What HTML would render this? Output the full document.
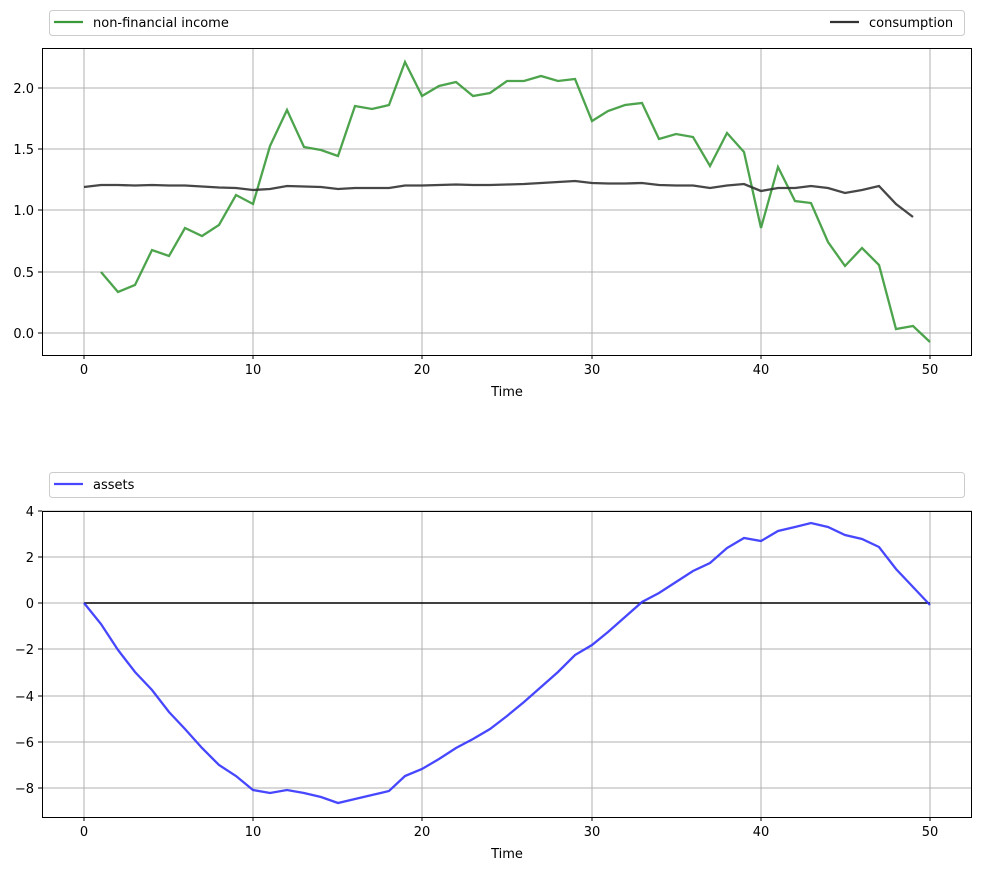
<!DOCTYPE html>
<html><head><meta charset="utf-8"><style>body{margin:0;background:#fff}svg{display:block}text{font-family:"DejaVu Sans","Liberation Sans",sans-serif;font-size:13px;fill:#000}</style></head><body>
<svg width="981" height="871" viewBox="0 0 981 871" xmlns="http://www.w3.org/2000/svg">
<g stroke="#b0b0b0" stroke-width="1">
<line x1="84" y1="48" x2="84" y2="355"/><line x1="253" y1="48" x2="253" y2="355"/><line x1="422" y1="48" x2="422" y2="355"/><line x1="592" y1="48" x2="592" y2="355"/><line x1="761" y1="48" x2="761" y2="355"/><line x1="930" y1="48" x2="930" y2="355"/>
<line x1="42" y1="333" x2="972" y2="333"/><line x1="42" y1="272" x2="972" y2="272"/><line x1="42" y1="210" x2="972" y2="210"/><line x1="42" y1="149" x2="972" y2="149"/><line x1="42" y1="88" x2="972" y2="88"/>
<line x1="84" y1="511" x2="84" y2="817"/><line x1="253" y1="511" x2="253" y2="817"/><line x1="422" y1="511" x2="422" y2="817"/><line x1="592" y1="511" x2="592" y2="817"/><line x1="761" y1="511" x2="761" y2="817"/><line x1="930" y1="511" x2="930" y2="817"/>
<line x1="42" y1="511" x2="972" y2="511"/><line x1="42" y1="557" x2="972" y2="557"/><line x1="42" y1="603" x2="972" y2="603"/><line x1="42" y1="649" x2="972" y2="649"/><line x1="42" y1="696" x2="972" y2="696"/><line x1="42" y1="742" x2="972" y2="742"/><line x1="42" y1="788" x2="972" y2="788"/>
</g>
<polyline fill="none" stroke="#3a9a3a" stroke-opacity="0.9" stroke-width="2.3" points="101,272 118,292 135,285 152,250 169,256 185,228 202,236 219,225 236,195 253,204 270,146 287,110 304,147 321,150 338,156 355,106 372,109 389,105 405,62 422,96 439,86 456,82 473,96 490,93 507,81 524,81 541,76 558,81 575,79 592,121 608,111 625,105 642,103 659,139 676,134 693,137 710,166 727,133 744,152 761,228 778,167 795,201 811,203 828,242 845,266 862,248 879,265 896,329 913,326 930,342"/>
<polyline fill="none" stroke="#333" stroke-opacity="0.9" stroke-width="2.3" points="84,187 101,185 118,185 135,185.5 152,185 169,185.5 185,185.5 202,186.5 219,187.5 236,188 253,190 270,189 287,186 304,186.5 321,187 338,189 355,188 372,188 389,188 405,185.5 422,185.5 439,185 456,184.5 473,185 490,185 507,184.5 524,184 541,183 558,182 575,181 592,183 608,183.5 625,183.5 642,183 659,185 676,185.5 693,185.5 710,188 727,185.5 744,184 761,191 778,188 795,188 811,186 828,188 845,193 862,190 879,186 896,204 913,217"/>
<line x1="84" y1="603" x2="930" y2="603" stroke="#000" stroke-width="1.5"/>
<polyline fill="none" stroke="#3333ff" stroke-opacity="0.9" stroke-width="2.3" points="84,603 101,624 118,650 135,672 152,690 169,712 185,729 202,748 219,765 236,776 253,790 270,793 287,790 304,793 321,797 338,803 355,799 372,795 389,791 405,776 422,769 439,759 456,748 473,739 490,729 507,716 524,702 541,687 558,672 575,655 592,645 608,632 625,617 642,602 659,593 676,582 693,571 710,563 727,548 744,538 761,541 778,531 795,527 811,523 828,527 845,535 862,539 879,547 896,569 913,587 930,605"/>
<g fill="none" stroke="#000" stroke-width="1">
<rect x="42.5" y="48.5" width="929" height="307"/><rect x="42.5" y="511.5" width="929" height="306"/>
</g>
<g stroke="#000">
<path d="M84 355v4M253 355v4M422 355v4M592 355v4M761 355v4M930 355v4M38 333h4M38 272h4M38 210h4M38 149h4M38 88h4"/>
<path d="M84 817v4M253 817v4M422 817v4M592 817v4M761 817v4M930 817v4M38 511h4M38 557h4M38 603h4M38 649h4M38 696h4M38 742h4M38 788h4"/>
</g>
<g text-anchor="middle">
<text x="84" y="374">0</text><text x="253" y="374">10</text><text x="422" y="374">20</text><text x="592" y="374">30</text><text x="761" y="374">40</text><text x="930" y="374">50</text>
<text x="507" y="396">Time</text>
<text x="84" y="836">0</text><text x="253" y="836">10</text><text x="422" y="836">20</text><text x="592" y="836">30</text><text x="761" y="836">40</text><text x="930" y="836">50</text>
<text x="507" y="858">Time</text>
</g>
<g text-anchor="end">
<text x="34" y="338">0.0</text><text x="34" y="277">0.5</text><text x="34" y="215">1.0</text><text x="34" y="154">1.5</text><text x="34" y="93">2.0</text>
<text x="34" y="516">4</text><text x="34" y="562">2</text><text x="34" y="608">0</text><text x="34" y="654">−2</text><text x="34" y="701">−4</text><text x="34" y="747">−6</text><text x="34" y="793">−8</text>
</g>
<rect x="49.5" y="10.5" width="915" height="25" rx="3" fill="#fff" stroke="#ccc"/>
<line x1="54" y1="22" x2="83" y2="22" stroke="#3a9a3a" stroke-width="2.3"/><text x="93" y="27">non-financial income</text>
<line x1="830" y1="22" x2="859" y2="22" stroke="#333" stroke-width="2.3"/><text x="869" y="27">consumption</text>
<rect x="49.5" y="472.5" width="915" height="25" rx="3" fill="#fff" stroke="#ccc"/>
<line x1="54" y1="484" x2="83" y2="484" stroke="#3333ff" stroke-opacity="0.9" stroke-width="2.3"/><text x="93" y="489">assets</text>
</svg>
</body></html>
